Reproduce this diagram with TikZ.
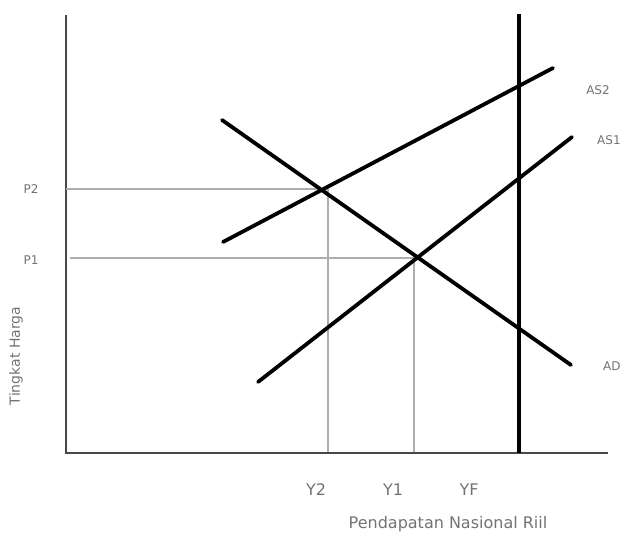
\documentclass[tikz,border=0pt]{standalone}
\usepackage{fontspec}
\setmainfont{DejaVu Sans}
\usetikzlibrary{intersections}
\begin{document}
\begin{tikzpicture}[x=1pt,y=-1pt,
  axisline/.style={draw=black!72,line width=2.4pt},
  curve/.style={draw=black,line width=3.8pt,line cap=round},
  fullline/.style={draw=black,line width=4.2pt},
  guide/.style={draw=black!32,line width=2pt},
  lbl/.style={text=black!55,inner sep=0pt,font=\fontsize{12}{12}\selectfont},
  axlbl/.style={text=black!55,inner sep=0pt,font=\fontsize{16}{16}\selectfont}]
\useasboundingbox (0,0) rectangle (624,534);
% axes
\coordinate (O) at (66,453);
\coordinate (Ytop) at (66,15);
\coordinate (Xend) at (608,453);
\draw[axisline] (Ytop) -- (O) -- (Xend);
% full employment line
\coordinate (YFtop) at (519,14);
\coordinate (YFbot) at (519,453);
\draw[fullline] (YFtop) -- (YFbot);
% curves
\coordinate (ADa) at (222,120);
\coordinate (ADb) at (571,365);
\coordinate (ASIIa) at (223,242);
\coordinate (ASIIb) at (553,68);
\coordinate (ASIa) at (258,382);
\coordinate (ASIb) at (572,137);
% guide lines
\coordinate (P2y) at (66,189);
\coordinate (P1y) at (70,258);
\coordinate (H2) at (322,189);
\coordinate (H1) at (414,258);
\coordinate (V2t) at (328,189);
\coordinate (V2b) at (328,452);
\coordinate (V1t) at (414,258);
\coordinate (V1b) at (414,452);
\draw[guide,line width=1.6pt] (P2y) -- (H2);
\draw[guide] (P1y) -- (H1);
\draw[guide] (V2t) -- (V2b);
\draw[guide] (V1t) -- (V1b);
\draw[curve] (ADa) -- (ADb);
\draw[curve] (ASIIa) -- (ASIIb);
\draw[curve] (ASIa) -- (ASIb);
% labels
\node[lbl] (lP2) at (31,189) {P2};
\node[lbl] (lP1) at (31,260) {P1};
\node[lbl] (lAS2) at (598,90) {AS2};
\node[lbl,anchor=west] (lAS1) at (597,140) {AS1};
\node[lbl,anchor=west] (lAD) at (603,366) {AD};
\node[axlbl] (lY2) at (316,490) {Y2};
\node[axlbl] (lY1) at (393,490) {Y1};
\node[axlbl] (lYF) at (469,490) {YF};
\node[axlbl] (lX) at (448,524) {Pendapatan Nasional Riil};
\node[lbl,rotate=90,font=\fontsize{14}{14}\selectfont] (lYax) at (16,356) {Tingkat Harga};
\end{tikzpicture}
\end{document}
